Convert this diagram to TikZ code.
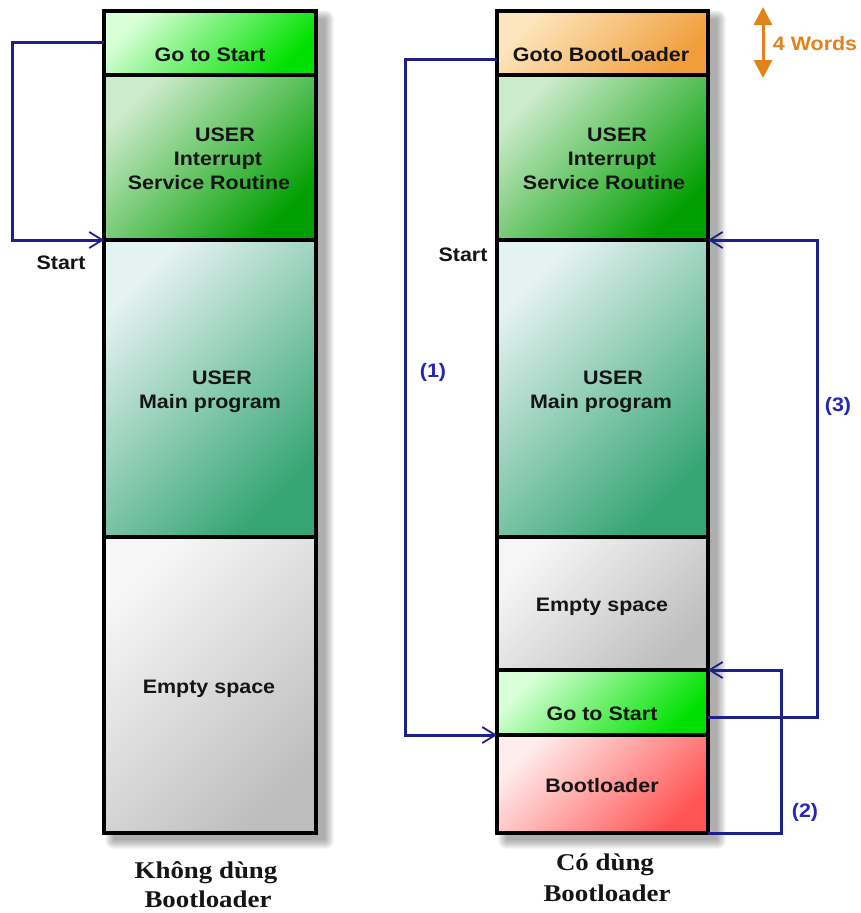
\documentclass[tikz,border=0pt]{standalone}
\usepackage{fontspec}
\setmainfont{Liberation Serif}
\newfontfamily\sansb{Liberation Sans}[FakeStretch=1.1]
\newfontfamily\serifb{Liberation Serif}[FakeStretch=1.12]
\usetikzlibrary{arrows.meta}
\definecolor{txt}{HTML}{151515}
\definecolor{navy}{HTML}{1C2088}
\definecolor{bluelbl}{HTML}{2626B4}
\definecolor{orng}{HTML}{E2821A}
\tikzset{
  box/.style={draw=black, line width=3.4pt, anchor=north west, inner sep=0pt, outer sep=0pt, minimum width=212pt},
  lbl/.style={font=\sansb\bfseries\fontsize{19.5}{23}\selectfont, text=txt, inner sep=0pt, anchor=base},
  blbl/.style={font=\sansb\bfseries\fontsize{19.5}{23}\selectfont, text=bluelbl, inner sep=0pt, anchor=base},
  olbl/.style={font=\sansb\bfseries\fontsize{19.5}{23}\selectfont, text=orng, inner sep=0pt, anchor=base},
  captxt/.style={font=\serifb\bfseries\fontsize{24}{28}\selectfont, text=txt, inner sep=0pt, anchor=base},
  conn/.style={draw=navy, line width=3pt, -{Straight Barb[length=13pt,width=16pt,line width=1.8pt]}},
  colshadow/.style={fill=black, opacity=0.035}
}
\begin{document}
\begin{tikzpicture}[x=1pt,y=1pt]
\useasboundingbox[fill=white] (0,0) rectangle (861,-913);
% shadows
\foreach \k in {0,...,9}{
  \fill[colshadow, rounded corners=\k] (104+10-\k,-11-8+\k) rectangle (316+9+\k,-833-7-\k);
  \fill[colshadow, rounded corners=\k] (497+10-\k,-11-8+\k) rectangle (708+9+\k,-833-7-\k);
}
% left column
\node[box, minimum height=64pt, top color=green!15!white, bottom color=green!88!black, shading angle=45] (lgo) at (104,-11) {};
\node[box, minimum height=165pt, top color=green!60!black!20!white, bottom color=green!62!black, shading angle=45] (lisr) at (104,-75) {};
\node[box, minimum height=297pt, top color=white!90!teal, bottom color={rgb,255:red,52;green,165;blue,115}, shading angle=45] (lmain) at (104,-240) {};
\node[box, minimum height=296pt, top color={rgb,255:red,246;green,246;blue,246}, bottom color={rgb,255:red,190;green,190;blue,190}, shading angle=45] (lempty) at (104,-537) {};
% right column
\node[box, minimum width=211pt, minimum height=64pt, top color={rgb,255:red,253;green,230;blue,190}, bottom color={rgb,255:red,240;green,158;blue,60}, shading angle=45] (rgoto) at (497,-11) {};
\node[box, minimum width=211pt, minimum height=165pt, top color=green!60!black!20!white, bottom color=green!62!black, shading angle=45] (risr) at (497,-75) {};
\node[box, minimum width=211pt, minimum height=297pt, top color=white!90!teal, bottom color={rgb,255:red,52;green,165;blue,115}, shading angle=45] (rmain) at (497,-240) {};
\node[box, minimum width=211pt, minimum height=133pt, top color={rgb,255:red,246;green,246;blue,246}, bottom color={rgb,255:red,190;green,190;blue,190}, shading angle=45] (rempty) at (497,-537) {};
\node[box, minimum width=211pt, minimum height=65pt, top color=green!15!white, bottom color=green!88!black, shading angle=45] (rgts) at (497,-670) {};
\node[box, minimum width=211pt, minimum height=98pt, top color={rgb,255:red,255;green,236;blue,236}, bottom color={rgb,255:red,255;green,85;blue,85}, shading angle=45] (rboot) at (497,-735) {};
% left texts
\node[lbl] (t1) at (210,-61) {Go to Start};
\node[lbl] (t2) at (225,-141) {USER};
\node[lbl] (t3) at (218,-165) {Interrupt};
\node[lbl] (t4) at (209,-189) {Service Routine};
\node[lbl] (t5) at (222,-384) {USER};
\node[lbl] (t6) at (210,-408) {Main program};
\node[lbl] (t7) at (209,-693) {Empty space};
\node[lbl] (t8) at (61,-269) {Start};
% right texts
\node[lbl] (u1) at (601,-61) {Goto BootLoader};
\node[lbl] (u2) at (617,-141) {USER};
\node[lbl] (u3) at (612,-165) {Interrupt};
\node[lbl] (u4) at (604,-189) {Service Routine};
\node[lbl] (u5) at (613,-384) {USER};
\node[lbl] (u6) at (601,-408) {Main program};
\node[lbl] (u7) at (602,-611) {Empty space};
\node[lbl] (u8) at (602,-720) {Go to Start};
\node[lbl] (u9) at (602,-792) {Bootloader};
\node[lbl] (u10) at (463,-261) {Start};
% blue labels
\node[blbl] (n1) at (433,-377) {(1)};
\node[blbl] (n3) at (838,-411) {(3)};
\node[blbl] (n2) at (805,-817) {(2)};
% 4 words
\coordinate (w1) at (763,-7);
\coordinate (w2) at (763,-78);
\draw[draw=orng, line width=3pt, {Triangle[length=18pt,width=18pt]}-{Triangle[length=18pt,width=18pt]}] (w1) -- (w2);
\node[olbl] (fw) at (815,-50) {4 Words};
% captions
\node[captxt] (c1) at (206,-878) {Không dùng};
\node[captxt] (c2) at (208,-907) {Bootloader};
\node[captxt] (c3) at (605,-870) {Có dùng};
\node[captxt] (c4) at (607,-901) {Bootloader};
% connectors
\draw[conn] ([yshift=1pt]lgo.west) -- ++(-92,0) |- (lisr.south west);
\draw[conn] ([yshift=-16pt]rgoto.west) -- ++(-92,0) |- (rgts.south west);
\draw[conn] ([yshift=-15pt]rgts.east) -- ++(109,0) |- (risr.south east);
\draw[conn] (rboot.south east) -- ++(73,0) |- (rgts.north east);
\end{tikzpicture}
\end{document}
